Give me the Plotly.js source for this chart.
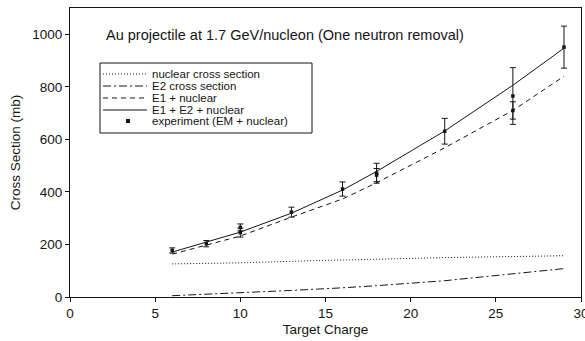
<!DOCTYPE html>
<html>
<head>
<meta charset="utf-8">
<script src="https://cdn.plot.ly/plotly-3.0.1.min.js"></script>
<style>html,body{margin:0;padding:0;background:#fff}#chart{width:585px;height:341px}</style>
</head>
<body>
<div id="chart"></div>
<script>
// Model curves (target charge Z)
const modelZ = [6, 8, 10, 13, 16, 18, 22, 26, 29];
const nuclear = [126, 128, 130, 136, 141, 145, 150, 154, 157];
const e2 = [5, 10, 15, 25, 35, 43, 62, 88, 108];
const e1Nuclear = [163, 198, 232, 304, 373, 435, 568, 710, 840];
const e1e2Nuclear = [171, 209, 247, 319, 407, 478, 632, 806, 947];

// Experiment (EM + nuclear)
const expZ = [6, 8, 10, 10, 13, 16, 18, 18, 22, 26, 26, 29];
const expY = [177, 203, 265, 245, 323, 411, 471, 464, 631, 765, 710, 951];
const expErr = [10, 12, 13, 17, 19, 27, 38, 25, 49, 108, 33, 80];

const legendLabels = ['nuclear cross section', 'E2 cross section', 'E1 + nuclear', 'E1 + E2 + nuclear', 'experiment (EM + nuclear)'];
const chartTitle = 'Au projectile at 1.7 GeV/nucleon (One neutron removal)';
const xTitle = 'Target Charge';
const yTitle = 'Cross Section (mb)';

const INK = '#151515';
const FONT = 'Liberation Sans, Arial, sans-serif';
const dashes = ['1px,2px', '8px,3px,2px,3px', '5px,4px', 'solid'];

const curves = [nuclear, e2, e1Nuclear, e1e2Nuclear];
const traces = curves.map((ys, i) => ({
  x: modelZ, y: ys, type: 'scatter', mode: 'lines', name: legendLabels[i],
  line: {color: INK, width: 1, dash: dashes[i]}, showlegend: false, hoverinfo: 'skip'
}));
traces.push({
  x: expZ, y: expY, type: 'scatter', mode: 'markers', name: legendLabels[4],
  marker: {symbol: 'square', size: 3.5, color: INK},
  error_y: {type: 'data', array: expErr, visible: true, color: INK, thickness: 1, width: 3},
  showlegend: false
});

// Hand-drawn legend box (paper coordinates)
const px2x = p => (p - 70) / 511;
const py2y = p => (297 - p) / 289;
const rows = [74, 86, 98, 110, 121];
const shapes = [{
  type: 'rect', xref: 'paper', yref: 'paper',
  x0: px2x(100), x1: px2x(312), y0: py2y(133), y1: py2y(63),
  line: {color: INK, width: 1}
}];
const annotations = [];
rows.forEach((r, i) => {
  if (i < 4) {
    shapes.push({type: 'line', xref: 'paper', yref: 'paper',
      x0: px2x(103), x1: px2x(147), y0: py2y(r), y1: py2y(r),
      line: {color: INK, width: 1, dash: dashes[i]}});
  } else {
    shapes.push({type: 'rect', xref: 'paper', yref: 'paper',
      xsizemode: 'pixel', ysizemode: 'pixel', xanchor: px2x(128), yanchor: py2y(r),
      x0: -2, x1: 2, y0: -2, y1: 2, fillcolor: INK, line: {width: 0}});
  }
  annotations.push({xref: 'paper', yref: 'paper', x: px2x(151), y: py2y(r),
    xanchor: 'left', yanchor: 'middle', showarrow: false, text: legendLabels[i],
    font: {family: FONT, size: 11.5, color: INK}, borderpad: 0});
});
annotations.push({xref: 'paper', yref: 'paper', x: px2x(104), y: py2y(35),
  xanchor: 'left', yanchor: 'middle', showarrow: false, text: chartTitle,
  font: {family: FONT, size: 14.5, color: INK}});

const layout = {
  width: 585, height: 341,
  margin: {l: 70, r: 4, t: 8, b: 44},
  paper_bgcolor: '#fff', plot_bgcolor: '#fff',
  font: {family: FONT, size: 13, color: INK},
  showlegend: false,
  xaxis: {
    range: [0, 30], tickvals: [0, 5, 10, 15, 20, 25, 30],
    ticks: 'outside', ticklen: 4, tickwidth: 1, tickcolor: INK,
    ticklabeloverflow: 'allow',
    showline: true, linecolor: INK, linewidth: 1, mirror: true,
    showgrid: false, zeroline: false,
    tickfont: {family: FONT, size: 13.5, color: INK},
    title: {text: xTitle, font: {family: FONT, size: 13.5, color: INK}, standoff: 4}
  },
  yaxis: {
    range: [0, 1100], tickvals: [0, 200, 400, 600, 800, 1000],
    ticks: 'outside', ticklen: 4, tickwidth: 1, tickcolor: INK,
    showline: true, linecolor: INK, linewidth: 1, mirror: true,
    showgrid: false, zeroline: false,
    tickfont: {family: FONT, size: 13.5, color: INK},
    title: {text: yTitle, font: {family: FONT, size: 13.5, color: INK}, standoff: 8}
  },
  shapes: shapes,
  annotations: annotations
};

Plotly.newPlot('chart', traces, layout, {staticPlot: true, displayModeBar: false});
</script>
</body>
</html>
